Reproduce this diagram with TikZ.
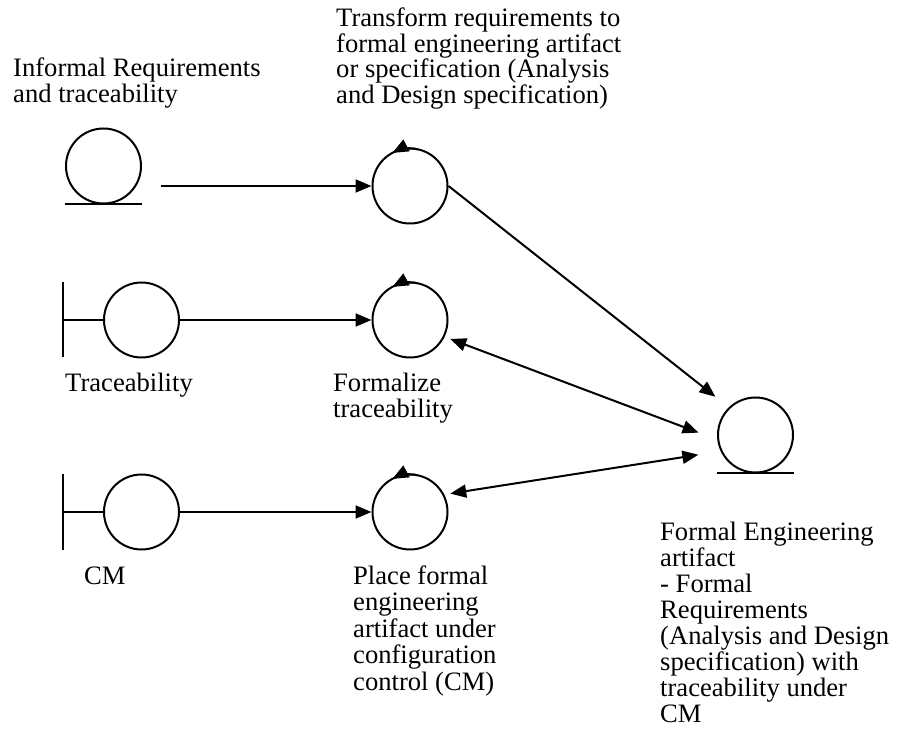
\documentclass[tikz,border=0pt]{standalone}
\usepackage{fontspec}
\setmainfont{Liberation Serif}
\usetikzlibrary{arrows.meta}
\begin{document}
\begin{tikzpicture}[x=1pt,y=1pt,
  sym/.style={line width=2pt},
  obj/.style={circle, draw, line width=2pt, minimum size=75pt, inner sep=0pt},
  conn/.style={line width=2pt, -{Triangle[length=16pt,width=13pt]}},
  biconn/.style={line width=2pt, {Triangle[length=16pt,width=13pt]}-{Triangle[length=16pt,width=13pt]}},
  ctrlarrow/.style={line width=2pt, -{Triangle[length=16pt,width=13pt]}},
  txt/.style={font=\fontsize{26.6pt}{#1}\selectfont, align=left, inner sep=0pt, anchor=base west},
  txt/.default=26pt]
\useasboundingbox (0,0) rectangle (897,729);

% entity, boundary and control objects
\node[obj] (e1) at (103.5,563) {};
\node[obj] (c1) at (410,543) {};
\node[obj] (b1) at (141.5,409) {};
\node[obj] (c2) at (410,409) {};
\node[obj] (b2) at (141.5,217) {};
\node[obj] (c3) at (410,217) {};
\node[obj] (e2) at (755.5,294) {};

% entity underlines
\foreach \e in {e1,e2}
  \draw[sym] ([xshift=-38.5pt]\e.south) -- ([xshift=38.5pt]\e.south);

% boundary bars
\foreach \b in {b1,b2}
  \draw[sym] (\b.west) -- ++(-40,0) ++(0,37.5) -- ++(0,-75);

% control arrows on top of the circles
\foreach \c in {c1,c2,c3}
  \draw[ctrlarrow] ([shift={(78:37.5)}]\c.center) arc[start angle=78, end angle=118, radius=37.5];

% connectors
\draw[conn, shorten <=19pt] (e1.east |- c1.west) -- (c1.west);
\draw[conn] (b1) -- (c2);
\draw[conn] (b2) -- (c3);
\draw[conn, shorten >=17pt] (c1.east) -- (e2.134);
\draw[biconn, shorten <=6pt, shorten >=20pt] (c2.-26) -- (e2.187);
\draw[biconn, shorten <=6pt, shorten >=22.5pt] (c3.27) -- (e2.205);

% labels (anchored at the baseline of their last line)
\node[txt] (t1) at (13,626) {Informal Requirements\\and traceability};
\node[txt=25.5pt] (t2) at (336,625.5) {Transform requirements to\\formal engineering artifact\\or specification (Analysis\\and Design specification)};
\node[txt] (t3) at (65,337) {Traceability};
\node[txt] (t4) at (333,311) {Formalize\\traceability};
\node[txt] (t5) at (84,145) {CM};
\node[txt=26.5pt] (t6) at (353,39) {Place formal\\engineering\\artifact under\\configuration\\control (CM)};
\node[txt=26pt] (t7) at (660,7) {Formal Engineering\\artifact\\- Formal\\Requirements\\(Analysis and Design\\specification) with\\traceability under\\CM};
\end{tikzpicture}
\end{document}
